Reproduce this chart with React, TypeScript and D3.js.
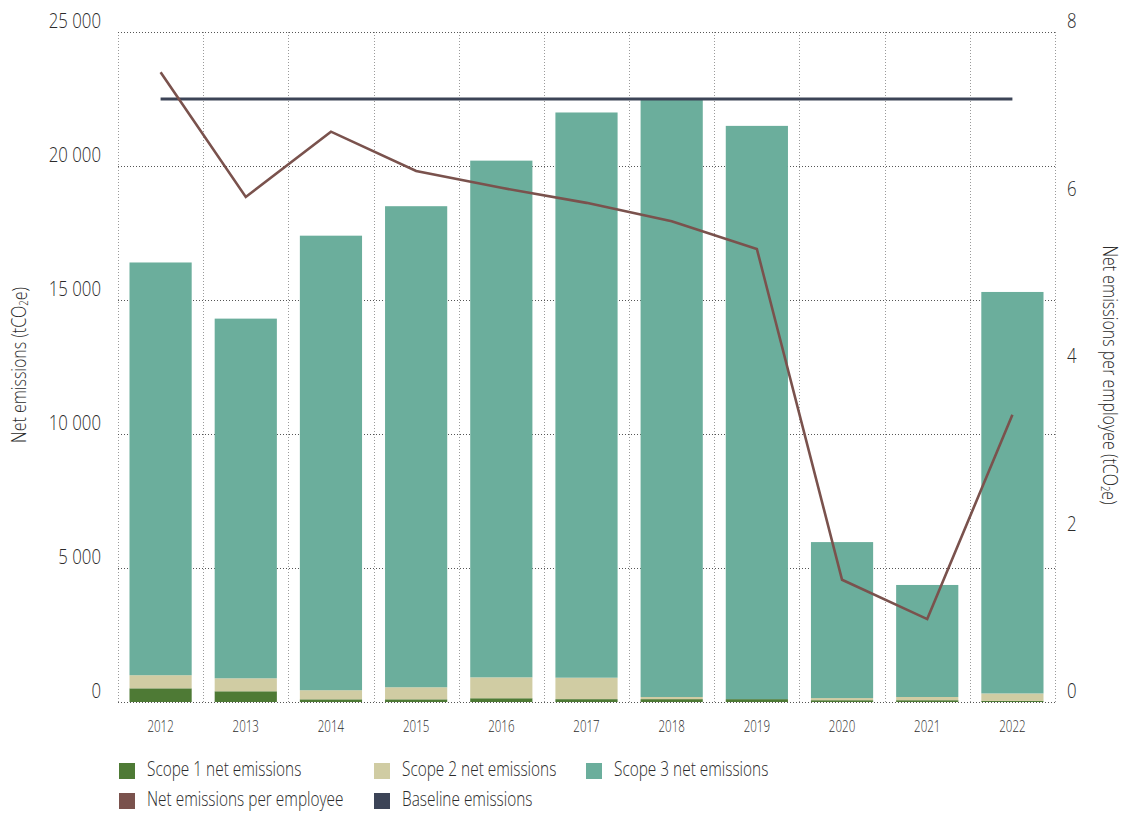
import React from 'react';
import * as d3 from 'd3';

const years = ['2012', '2013', '2014', '2015', '2016', '2017', '2018', '2019', '2020', '2021', '2022'];
const scope1 = [510, 400, 100, 100, 140, 107, 107, 107, 67, 67, 40];
const scope2 = [490, 485, 340, 450, 780, 800, 80, 0, 80, 120, 280];
const scope3 = [15400, 13420, 16960, 17950, 19280, 21090, 22310, 21390, 5820, 4180, 14980];
const perEmployee = [7.52, 6.03, 6.81, 6.34, 6.14, 5.96, 5.74, 5.41, 1.46, 0.99, 3.43];
const baseline = [22500, 22500, 22500, 22500, 22500, 22500, 22500, 22500, 22500, 22500, 22500];
const leftTicks = [0, 5000, 10000, 15000, 20000, 25000];
const rightTicks = [0, 2, 4, 6, 8];

const colors = {
  scope1: '#4e7a35',
  scope2: '#d0cca3',
  scope3: '#6bae9c',
  perEmployee: '#7a524d',
  baseline: '#3c4457',
};

const FONT = '"Open Sans", "Noto Sans", sans-serif';
const TEXT = '#2b2b2b';

const W = 1129;
const H = 816;
const plot = { left: 118, right: 1055, top: 32, bottom: 702 };

const fmt = (v: number) => (v >= 1000 ? d3.format(',')(v).replace(',', ' ') : String(v));

// condensed text: the source uses a narrow face, so squeeze horizontally
const CText = ({ x, y, sx, rot = 0, anchor = 'start', size, children }: any) => (
  <text
    transform={`translate(${x},${y}) rotate(${rot}) scale(${sx},1)`}
    textAnchor={anchor}
    fontSize={size}
    dominantBaseline="middle"
  >
    {children}
  </text>
);

export default function App() {
  const x = d3.scaleBand().domain(years).range([plot.left, plot.right]).paddingInner(0.27).paddingOuter(0.135);
  const xGrid = d3.scaleBand().domain(years).range([plot.left, plot.right]);
  const y = d3.scaleLinear().domain([0, 25000]).range([plot.bottom, plot.top]);
  const y2 = d3.scaleLinear().domain([0, 8]).range([plot.bottom, plot.top]);

  const rows = years.map((yr, i) => ({ year: yr, scope1: scope1[i], scope2: scope2[i], scope3: scope3[i] }));
  const series = d3.stack<any>().keys(['scope1', 'scope2', 'scope3'])(rows);

  const cx = (d: string) => (x(d) as number) + x.bandwidth() / 2;
  const line = d3.line<number>().x((_, i) => cx(years[i])).y((d) => y2(d));
  const baseLine = d3.line<number>().x((_, i) => cx(years[i])).y((d) => y(d));

  const gridX = [...years.map((d) => xGrid(d) as number), plot.right];

  const legend = [
    { label: 'Scope 1 net emissions', color: colors.scope1, x: 119, y: 771 },
    { label: 'Scope 2 net emissions', color: colors.scope2, x: 374, y: 771 },
    { label: 'Scope 3 net emissions', color: colors.scope3, x: 586, y: 771 },
    { label: 'Net emissions per employee', color: colors.perEmployee, x: 119, y: 801 },
    { label: 'Baseline emissions', color: colors.baseline, x: 374, y: 801 },
  ];

  const sub = (pre: string) => (
    <>
      {pre}(tCO<tspan fontSize={12} dy={4}>2</tspan><tspan dy={-4}>e)</tspan>
    </>
  );

  return (
    <svg width={W} height={H} style={{ position: 'absolute', left: 0, top: 0, background: '#fff' }} fontFamily={FONT} fontWeight={300}>
      {/* grid */}
      <g strokeWidth={1} strokeDasharray="1,2" fill="none">
        {gridX.map((gx, i) => (
          <line key={'v' + i} x1={Math.round(gx) + 0.5} x2={Math.round(gx) + 0.5} y1={plot.top} y2={plot.bottom} stroke="#9a9a9a" />
        ))}
        {leftTicks.map((t) => (
          <line key={'h' + t} x1={plot.left} x2={plot.right} y1={Math.round(y(t)) + 0.5} y2={Math.round(y(t)) + 0.5} stroke="#555" />
        ))}
      </g>

      {/* stacked bars */}
      {series.map((s) => (
        <g key={s.key} fill={(colors as any)[s.key]}>
          {s.map((d, i) => (
            <rect key={i} x={x(years[i])} y={y(d[1])} width={x.bandwidth()} height={Math.max(0, y(d[0]) - y(d[1]))} />
          ))}
        </g>
      ))}

      {/* baseline */}
      <path d={baseLine(baseline) || ''} fill="none" stroke={colors.baseline} strokeWidth={3} />
      {/* per employee */}
      <path d={line(perEmployee) || ''} fill="none" stroke={colors.perEmployee} strokeWidth={2.6} />

      <g fill={TEXT}>
        {/* left axis */}
        {leftTicks.map((t) => (
          <CText key={'l' + t} x={101} y={y(t) - 9} sx={0.84} anchor="end" size={20}>{fmt(t)}</CText>
        ))}
        {/* right axis */}
        {rightTicks.map((t) => (
          <CText key={'r' + t} x={1067} y={y2(t) - 9} sx={0.84} anchor="start" size={20}>{t}</CText>
        ))}
        {/* x labels */}
        {years.map((yr) => (
          <CText key={yr} x={cx(yr)} y={727} sx={0.68} anchor="middle" size={17}>{yr}</CText>
        ))}

        {/* axis titles */}
        <CText x={21} y={365} rot={-90} sx={0.8} anchor="middle" size={20}>{sub('Net emissions ')}</CText>
        <CText x={1108} y={375} rot={90} sx={0.8} anchor="middle" size={20}>{sub('Net emissions per employee ')}</CText>

        {/* legend */}
        {legend.map((l) => (
          <g key={l.label}>
            <rect x={l.x} y={l.y - 8} width={16} height={16} fill={l.color} />
            <CText x={l.x + 28} y={l.y} sx={0.77} size={20}>{l.label}</CText>
          </g>
        ))}
      </g>
    </svg>
  );
}
